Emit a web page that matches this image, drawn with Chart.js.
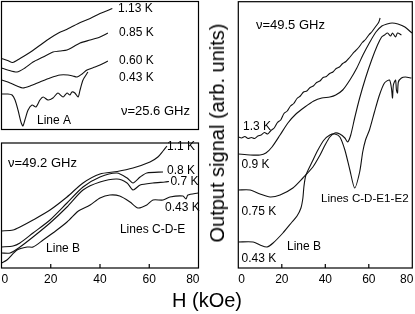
<!DOCTYPE html>
<html>
<head>
<meta charset="utf-8">
<script src="https://cdn.jsdelivr.net/npm/chart.js@4.4.1/dist/chart.umd.min.js"></script>
<style>
  html, body { margin: 0; padding: 0; background: #fff; }
  #wrap { position: relative; width: 415px; height: 314px; overflow: hidden; font-family: "Liberation Sans", Arial, sans-serif; }
  #wrap canvas { position: absolute; left: 0; top: 0; }
  .axis-title { position: absolute; color: #000; white-space: nowrap; font-size: 20px; line-height: 1; }
  #xTitle { left: 207px; top: 300px; transform: translate(-50%, -50%); }
  #yTitle { left: 217px; top: 133px; transform: translate(-50%, -50%) rotate(-90deg); }
</style>
</head>
<body>
<div id="wrap">
  <canvas id="panelA" width="415" height="314"></canvas>
  <canvas id="panelB" width="415" height="314"></canvas>
  <canvas id="panelC" width="415" height="314"></canvas>
  <div class="axis-title" id="xTitle">H (kOe)</div>
  <div class="axis-title" id="yTitle">Output signal (arb. units)</div>
</div>
<script>
// x: field H (kOe), y: output signal (arb. units)
const fieldTicks = [0, 20, 40, 60, 80];

// panel A, 25.6 GHz
const fieldA113 = [0, 2.5, 4.5, 7.5, 11.5, 15.5, 19.5, 23.5, 25.5, 28, 32, 36, 40, 45];
const signalA113 = [71, 69, 67, 71, 77, 84, 91, 97, 99, 102, 107, 111, 116, 121];
const fieldA085 = [0, 2.5, 6.3, 9.5, 12.8, 16.9, 20.9, 23.8, 26.6, 29, 31.9, 36, 40, 43.2];
const signalA085 = [61.5, 59.5, 57.5, 61.5, 67.5, 72.5, 77.5, 78.5, 79.5, 82.5, 86.5, 89.5, 92.5, 96.5];
const fieldA060 = [0, 3.5, 6.3, 8.7, 11.6, 15.6, 19.7, 23.8, 27, 29, 30.7, 32.7, 34.7, 38, 40, 43.2];
const signalA060 = [49.5, 46.5, 43.5, 41.5, 43.5, 47.5, 51.5, 54.5, 54.5, 53.5, 52.5, 55.5, 59.5, 62.5, 64.5, 68.5];
const fieldA043 = [0, 2.6, 4.3, 5.5, 6.7, 7.9, 8.7, 9.5, 10.8, 12.4, 14, 15.6, 16.9, 18.9, 20.9, 22.9, 25, 26.6, 27.8, 28.6, 29.8, 31.1, 31.9, 33.1, 35.1];
const signalA043 = [35.5, 35.5, 34.5, 29.5, 19.5, 7.5, 3.5, 9.5, 19.5, 24.5, 22.5, 29.5, 32.5, 29.5, 31.5, 36.5, 32.5, 36.5, 34.5, 37.5, 36.5, 32.5, 39.5, 49.5, 57.5];

// panel B, 49.2 GHz
const fieldB110 = [0, 4.7, 7.5, 12.8, 19.7, 26.6, 33.1, 40, 47, 53.4, 60.3, 63.5, 65.6, 67.2];
const signalB110 = [37, 38, 41, 48, 58, 71, 85, 94, 96.5, 100, 106, 111, 117, 122];
const fieldB080 = [0, 4.7, 7.5, 12.8, 19.7, 26.6, 33.1, 40, 46.9, 51, 53.4, 56.3, 59, 65.6];
const signalB080 = [21, 22, 25, 35, 48, 65, 81, 91, 95, 90, 85, 91, 95, 96];
const fieldB070 = [0, 3.5, 7.5, 12.8, 19.7, 26.6, 33.1, 40, 46.9, 51, 53.4, 56.3, 61.5, 66.4, 68];
const signalB070 = [15, 15, 21, 31, 45, 61, 78, 86, 89, 85, 78, 83, 85, 86, 86.5];
const fieldB043 = [0, 2.2, 6.3, 10.4, 12.8, 16.9, 22.5, 26.6, 30.7, 31.9, 36, 40, 44, 48, 52.2, 55.4, 59, 61.5, 65.6, 68.4, 73.7, 74.9, 75.7, 79.8];
const signalB043 = [5, 8, 18, 21, 21, 28, 38, 46, 56, 58, 63, 70, 73, 72, 66, 60, 63, 68, 68, 71, 72, 69, 73, 75];

// panel C, 49.5 GHz
const fieldC130 = [0, 1.5, 3, 4.5, 6, 7.5, 9, 10.5, 12, 13.5, 15, 16.5, 18, 19.5, 21, 22.5, 24, 25.5, 27, 28.5, 30, 31.5, 33, 34.5, 36, 37.5, 39, 40.5, 42, 43.5, 45, 46.5, 48, 49.5, 51, 52.5, 54, 55.5, 57, 58.5, 60, 61.5, 63, 64.5, 65.2];
const signalC130 = [131, 130, 131.5, 129.5, 130.5, 129.5, 132, 133, 135.5, 134, 137.5, 140, 145.5, 148, 154.5, 157, 162, 164.5, 169.5, 172, 176, 177, 180.5, 182, 185.5, 187, 190.5, 191.5, 194.5, 196, 199.5, 201, 204.5, 206.5, 210, 214, 217.5, 221, 225.5, 228.5, 233, 236.5, 241, 245.5, 250];
const fieldC090 = [0, 5.4, 10, 12.7, 15.5, 19.2, 22.8, 26.5, 30.6, 34.7, 38.4, 42.1, 44.8, 48, 51.3, 54.5, 57.3, 60.5, 63.3, 66, 68.4, 70.7, 73.4, 76.6, 79.8];
const signalC090 = [114, 113, 113, 115, 121, 133, 145, 154, 161, 167, 170, 171, 173, 178, 188, 200, 213, 226, 236, 242, 244, 245, 244, 241, 235];
const fieldC075 = [0, 5.4, 10, 14.6, 19.2, 25.1, 29.7, 34.3, 37.6, 39.9, 42.1, 44.4, 46.7, 49, 50.3, 51.7, 53.5, 55.8, 58.5, 61.3, 64, 65.9, 67.2, 68.6, 70, 70.9, 72.3, 73.2, 75];
const signalC075 = [78, 78, 74, 71, 73, 80, 90, 101, 113, 123, 131, 135, 134, 130, 126, 133, 150, 170, 190, 208, 223, 231, 233, 235, 232, 235, 231, 235, 233];
const fieldC043 = [0, 6.8, 10, 13.2, 16, 20.5, 24.7, 27, 28.8, 29.7, 30.2, 31.1, 33.9, 36.6, 39.4, 42.1, 44.4, 46.7, 49, 51.3, 53.5, 55.8, 57.2, 58.5, 60.3, 62.6, 64.9, 67.2, 69.5, 70.4, 70.9, 71.3, 72.3, 72.7, 73.2, 73.6, 75, 76.8, 79.6];
const signalC043 = [26, 26, 23, 21, 25, 35, 46, 52, 60, 70, 82, 93, 106, 118, 128, 133, 134, 131, 118, 98, 80, 96, 116, 128, 138, 156, 173, 185, 188, 180, 170, 183, 188, 178, 175, 186, 190, 191, 190];

// text inside the panels, placed in data units (H, signal)
const notesA = [
  { text: '1.13 K', h: 47.3, v: 120.5 },
  { text: '0.85 K', h: 47.7, v: 96.5 },
  { text: '0.60 K', h: 47.7, v: 68.5 },
  { text: '0.43 K', h: 47.7, v: 51.5 },
  { text: 'Line A', h: 14.4, v: 8.5 },
  { text: 'ν=25.6 GHz', h: 48.5, v: 18.5, size: 13 }
];
const notesB = [
  { text: 'ν=49.2 GHz', h: 2.6, v: 105, size: 13 },
  { text: '1.1 K', h: 67.2, v: 121 },
  { text: '0.8 K', h: 67.2, v: 97 },
  { text: '0.7 K', h: 68.6, v: 86 },
  { text: '0.43 K', h: 66.4, v: 60 },
  { text: 'Lines C-D-E', h: 48.1, v: 38 },
  { text: 'Line B', h: 18.1, v: 19 }
];
const notesC = [
  { text: 'ν=49.5 GHz', h: 8.1, v: 243, size: 13 },
  { text: '1.3 K', h: 2.2, v: 141 },
  { text: '0.9 K', h: 1.5, v: 103 },
  { text: '0.75 K', h: 1.5, v: 56 },
  { text: '0.43 K', h: 1.5, v: 9 },
  { text: 'Lines C-D-E1-E2', h: 38, v: 69, size: 11.6 },
  { text: 'Line B', h: 22.4, v: 21 }
];

Chart.defaults.font.family = '"Liberation Sans", Arial, sans-serif';
Chart.defaults.color = '#000';
const FONT = '"Liberation Sans", Arial, sans-serif';

// box, inward ticks, tick labels and in-panel text
const panelDecor = {
  id: 'panelDecor',
  afterDatasetsDraw(chart, args, opts) {
    const { ctx, chartArea: a, scales: { x, y } } = chart;
    ctx.save();
    ctx.strokeStyle = '#000';
    ctx.lineWidth = 1.2;
    ctx.strokeRect(a.left, a.top, a.right - a.left, a.bottom - a.top);
    ctx.fillStyle = '#000';
    if (opts.tickLabels) {
      ctx.font = '12px ' + FONT;
      ctx.textBaseline = 'middle';
      x.ticks.forEach((t, i) => {
        const px = x.getPixelForValue(t.value);
        if (i > 0 && i < x.ticks.length - 1) {
          ctx.beginPath();
          ctx.moveTo(px, a.bottom);
          ctx.lineTo(px, a.bottom - 4);
          ctx.stroke();
        }
        ctx.textAlign = i === 0 ? 'left' : (i === x.ticks.length - 1 ? 'right' : 'center');
        ctx.fillText(String(t.value), px + (i === x.ticks.length - 1 ? 1 : 0), a.bottom + 12);
      });
    }
    ctx.textBaseline = 'middle';
    ctx.textAlign = 'left';
    opts.notes.forEach(n => {
      ctx.font = (n.size || 12) + 'px ' + FONT;
      ctx.fillText(n.text, x.getPixelForValue(n.h), y.getPixelForValue(n.v));
    });
    ctx.restore();
  }
};

function curve(field, signal) {
  return {
    data: field.map((h, i) => ({ x: h, y: signal[i] })),
    borderColor: '#111',
    borderWidth: 1.1,
    pointRadius: 0,
    tension: 0.25,
    fill: false
  };
}

function panel(id, box, yMax, tickLabels, datasets, notes) {
  return new Chart(document.getElementById(id), {
    type: 'line',
    data: { datasets },
    options: {
      responsive: false,
      animation: false,
      devicePixelRatio: 1,
      layout: {
        padding: { left: box.left, top: box.top, right: 415 - box.right, bottom: 314 - box.bottom }
      },
      plugins: {
        legend: { display: false },
        tooltip: { enabled: false },
        panelDecor: { notes, tickLabels }
      },
      scales: {
        x: {
          type: 'linear', min: 0, max: 80,
          display: false,
          afterBuildTicks: s => { s.ticks = fieldTicks.map(v => ({ value: v })); }
        },
        y: { type: 'linear', min: 0, max: yMax, display: false }
      }
    },
    plugins: [panelDecor]
  });
}

panel('panelA', { left: 1.5, right: 198.5, top: 1.5, bottom: 129.5 }, 128, false,
  [curve(fieldA113, signalA113), curve(fieldA085, signalA085), curve(fieldA060, signalA060), curve(fieldA043, signalA043)], notesA);
panel('panelB', { left: 1.5, right: 198.5, top: 143, bottom: 268 }, 125, true,
  [curve(fieldB110, signalB110), curve(fieldB080, signalB080), curve(fieldB070, signalB070), curve(fieldB043, signalB043)], notesB);
panel('panelC', { left: 238.3, right: 412.3, top: 1.7, bottom: 268 }, 266.3, true,
  [curve(fieldC130, signalC130), curve(fieldC090, signalC090), curve(fieldC075, signalC075), curve(fieldC043, signalC043)], notesC);
</script>
</body>
</html>
